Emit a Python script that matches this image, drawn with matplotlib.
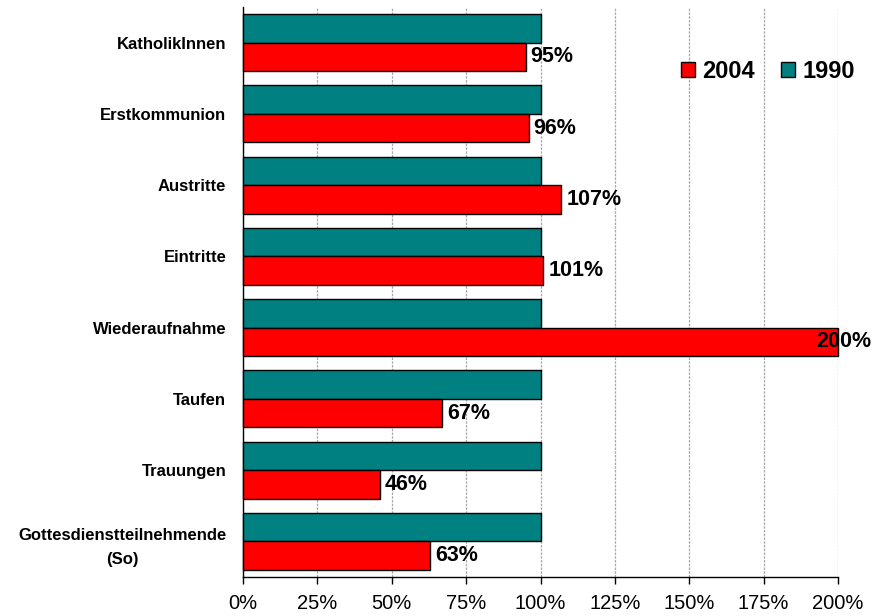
import matplotlib
matplotlib.use("Agg")
import matplotlib.pyplot as plt
from matplotlib.patches import Patch
import numpy as np

categories = ["KatholikInnen", "Erstkommunion", "Austritte", "Eintritte",
              "Wiederaufnahme", "Taufen", "Trauungen",
              "Gottesdienstteilnehmende\n(So)"]
values_1990 = [100, 100, 100, 100, 100, 100, 100, 100]
values_2004 = [95, 96, 107, 101, 200, 67, 46, 63]
value_labels = ["95%", "96%", "107%", "101%", "200%", "67%", "46%", "63%"]
xticks = [0, 25, 50, 75, 100, 125, 150, 175, 200]
xtick_labels = ["0%", "25%", "50%", "75%", "100%", "125%", "150%", "175%", "200%"]
series_names = ["2004", "1990"]

plt.rcParams['font.family'] = ['Liberation Sans', 'DejaVu Sans']

fig = plt.figure(figsize=(8.81, 6.16), dpi=100)
ax = fig.add_axes([243/881, 39/616, (838-243)/881, (577-7)/616])

y = np.arange(len(categories))
h = 0.4
teal = "#008080"
red = "#FF0000"

ax.barh(y - h/2, values_1990, height=h, color=teal, edgecolor="black",
        linewidth=1.0, zorder=3, clip_on=False)
ax.barh(y + h/2, values_2004, height=h, color=red, edgecolor="black",
        linewidth=1.0, zorder=3, clip_on=False)

for yi, v, lab in zip(y, values_2004, value_labels):
    if v > 190:
        ax.annotate(lab, xy=(v, yi + h/2), xytext=(-16, 0), textcoords="offset points",
                    ha="left", va="center", fontsize=15.5, fontweight="bold", zorder=5,
                    annotation_clip=False)
    else:
        ax.annotate(lab, xy=(v, yi + h/2), xytext=(3.5, 0), textcoords="offset points",
                    ha="left", va="center", fontsize=15.5, fontweight="bold", zorder=5)

ax.set_xlim(0, 200)
ax.set_ylim(len(categories) - 0.5, -0.5)

ax.set_xticks(xticks)
ax.set_xticklabels(xtick_labels, fontsize=14.5)
ax.set_yticks(y)
ax.set_yticklabels(categories, fontsize=12, fontweight='bold',
                   multialignment='center', ha='right', linespacing=1.8)
ax.tick_params(axis='y', length=0, pad=12)
ax.tick_params(axis='x', length=5, width=1, direction='out', pad=7)

ax.grid(axis='x', color='#A8A8A8', linestyle=(0, (2, 1)), linewidth=0.9, zorder=0)
ax.set_axisbelow(True)

for s in ["top", "right"]:
    ax.spines[s].set_visible(False)
ax.spines["left"].set_linewidth(1.0)
ax.spines["bottom"].set_linewidth(1.0)

handles = [Patch(facecolor=red, edgecolor="black", linewidth=1.0),
           Patch(facecolor=teal, edgecolor="black", linewidth=1.0)]
leg = ax.legend(handles, series_names, ncol=2, frameon=False,
                loc="center", bbox_to_anchor=(768/881, 1 - 71/616),
                bbox_transform=fig.transFigure,
                prop={'size': 17, 'weight': 'bold'},
                handlelength=0.6, handleheight=0.6, handletextpad=0.3,
                columnspacing=1.1)

fig.savefig("out.png", dpi=100)
